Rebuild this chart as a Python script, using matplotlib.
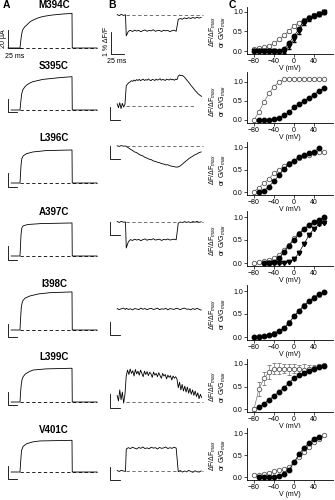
import matplotlib
matplotlib.use("Agg")
import matplotlib.pyplot as plt
import numpy as np

plt.rcParams['font.family'] = ['Liberation Sans', 'DejaVu Sans']
plt.rcParams['mathtext.fontset'] = 'custom'
plt.rcParams['mathtext.rm'] = 'Liberation Sans'
plt.rcParams['mathtext.it'] = 'Liberation Sans:italic'

mutants = ['M394C', 'S395C', 'L396C', 'A397C', 'I398C', 'L399C', 'V401C']

# ionic currents: (time ms, current uA), 100 ms depolarising pulse starting at t=0
currents = [
    [(-23, 0), (0, 0), (1.5, 8), (3, 15), (5, 20), (9, 23.5), (13, 25.5), (19, 29), (25, 31),
     (35, 33.5), (44, 35), (60, 36.5), (77, 37.5), (100, 38.5), (100.5, 0), (148, 0)],
    [(-17, 0), (0, 0), (1.5, 9), (3, 17), (5, 22), (9, 25.5), (13, 27.8), (19, 30), (25, 31.5),
     (44, 34), (77, 36), (100, 37), (100.5, 0), (148, 0)],
    [(-17, 0), (0, 0), (1, 10), (2, 20), (3.5, 27), (6, 30), (12, 32.5), (25, 34.5), (50, 36),
     (100, 36.7), (100.5, 0), (148, 0)],
    [(-17, 0), (0, 0), (1, 12), (2, 24), (3.5, 31), (6, 33.5), (15, 35), (40, 36), (100, 36.7),
     (100.5, 0), (148, 0)],
    [(-17, 0), (0, 0), (1, 12), (2.5, 25), (4, 30), (6, 33), (10, 35.5), (19, 37.8), (35, 40),
     (58, 41.5), (100, 42.3), (100.5, 0), (148, 0)],
    [(-17, 0), (0, 0), (1, 10), (2.5, 20), (4, 25), (6, 28), (10, 31), (17, 33.5), (25, 35.5),
     (50, 36.8), (100, 37.5), (100.5, 0), (148, 0)],
    [(-17, 0), (0, 0), (1, 9), (2, 17), (3, 24), (6, 28.5), (13, 31.5), (25, 33.5), (38, 34.5),
     (100, 35.2), (100.5, 0), (148, 0)],
]

# fluorescence (dF/F, %): before, during and after the pulse
fl_dt = [4, 2.5, 4, 4, 4, 2.5, 4]
fl_pre = [
    [0.02, -0.03, 0.03, -0.02, 0.01],
    [0.1, -0.08, 0.15, -0.12, 0.12, -0.05, 0.08],
    [0.01, -0.02, 0.02, -0.01, 0.0],
    [0.02, -0.02, 0.03, -0.01, 0.0],
    [0.02, -0.03, 0.01, 0.04, -0.02],
    [0.3, 0.05, 0.55, 0.1, 0.45, -0.05, 0.35],
    [0.02, -0.02, 0.03, 0.0, -0.02],
]
fl_on = [
    [-0.95, -0.74, -0.7, -0.75, -0.69, -0.73, -0.7, -0.76, -0.71, -0.68, -0.74, -0.7, -0.72,
     -0.67, -0.74, -0.71, -0.7, -0.75, -0.69, -0.72, -0.7, -0.76, -0.71, -0.69, -0.74],
    [0.92, 1.0, 1.06, 1.1, 1.15, 1.12, 1.18, 1.14, 1.2, 1.16, 1.21, 1.15, 1.19, 1.22, 1.16, 1.2,
     1.17, 1.23, 1.18, 1.15, 1.21, 1.19, 1.16, 1.22, 1.18, 1.2, 1.24, 1.17, 1.21, 1.19, 1.16,
     1.22, 1.2, 1.18, 1.23, 1.19, 1.21, 1.17, 1.22, 1.2],
    [-0.02, -0.08, -0.15, -0.2, -0.27, -0.3, -0.37, -0.42, -0.45, -0.52, -0.55, -0.6, -0.62,
     -0.68, -0.7, -0.74, -0.76, -0.8, -0.82, -0.86, -0.85, -0.9, -0.92, -0.94, -0.96],
    [-1.18, -0.9, -0.8, -0.84, -0.78, -0.82, -0.79, -0.85, -0.8, -0.77, -0.83, -0.79, -0.81,
     -0.76, -0.82, -0.8, -0.78, -0.84, -0.79, -0.81, -0.77, -0.82, -0.8, -0.78, -0.81],
    [0.03, -0.02, 0.01, -0.04, 0.02, 0.0, -0.03, 0.04, -0.01, 0.02, -0.03, 0.01, 0.03, -0.02,
     0.0, 0.04, -0.03, 0.01, -0.01, 0.03, -0.04, 0.02, 0.0, -0.02, 0.03],
    [1.2, 1.45, 1.25, 1.5, 1.3, 1.42, 1.18, 1.48, 1.28, 1.4, 1.22, 1.45, 1.3, 1.15, 1.4, 1.25,
     1.38, 1.2, 1.35, 1.28, 1.12, 1.36, 1.22, 1.3, 1.15, 1.33, 1.2, 1.08, 1.3, 1.18, 1.25, 1.05,
     1.22, 1.12, 1.2, 1.0, 1.18, 1.08, 1.15, 1.05],
    [1.0, 1.06, 1.02, 1.08, 1.04, 1.0, 1.07, 1.03, 1.09, 1.02, 1.05, 1.01, 1.08, 1.04, 1.06,
     1.0, 1.07, 1.03, 1.05, 1.09, 1.02, 1.06, 1.03, 1.08, 1.04],
]
fl_off = [
    [-0.2, -0.16, -0.19, -0.13, -0.17, -0.12, -0.16, -0.11, -0.15, -0.1, -0.14, -0.11],
    [1.36, 1.41, 1.38, 1.4, 1.35, 1.3, 1.22, 1.15, 1.08, 1.0, 0.92, 0.85, 0.78, 0.7, 0.64, 0.57,
     0.52, 0.47, 0.44],
    [-0.95, -0.9, -0.82, -0.74, -0.66, -0.58, -0.52, -0.46, -0.4, -0.36, -0.3, -0.27],
    [-0.05, 0.0, -0.03, 0.02, -0.02, 0.01, -0.03, 0.02, -0.01, 0.03, -0.02, 0.01],
    [0.01, -0.03, 0.02, 0.04, -0.01, 0.0, -0.04, 0.02, -0.02, 0.03, -0.01, -0.05],
    [0.65, 0.9, 0.55, 0.8, 0.5, 0.72, 0.45, 0.68, 0.4, 0.62, 0.35, 0.55, 0.3, 0.5, 0.25, 0.42,
     0.15, 0.35, 0.2],
    [-0.03, 0.02, -0.05, 0.0, -0.04, 0.03, -0.02, -0.06, 0.01, -0.03, -0.05, 0.0],
]
fl_dash_end = [148, 135, 148, 148, None, 148, 148]

# steady-state G-V (filled) and F-V (open) curves, plus fast F-V (triangles)
volt = [-80, -70, -60, -50, -40, -30, -20, -10, 0, 10, 20, 30, 40, 50, 60]
nan = np.nan
g_norm = [
    [0.0, 0.0, 0.0, 0.0, 0.0, 0.01, 0.05, 0.2, 0.38, 0.57, 0.78, 0.84, 0.9, 0.96, 1.0],
    [nan, 0.0, 0.0, 0.01, 0.02, 0.06, 0.13, 0.2, 0.33, 0.42, 0.5, 0.59, 0.67, 0.76, 0.84],
    [nan, 0.01, 0.03, 0.12, 0.24, 0.37, 0.51, 0.62, 0.7, 0.77, 0.82, 0.86, 0.9, 0.97, nan],
    [nan, nan, 0.0, 0.01, 0.03, 0.1, 0.24, 0.38, 0.5, 0.63, 0.73, 0.82, 0.89, 0.94, 0.99],
    [0.01, 0.01, 0.02, 0.04, 0.07, 0.12, 0.19, 0.3, 0.45, 0.57, 0.68, 0.78, 0.85, 0.93, 0.97],
    [nan, 0.04, 0.12, 0.2, 0.29, 0.38, 0.47, 0.58, 0.68, 0.75, 0.8, 0.85, 0.89, 0.93, 0.96],
    [nan, 0.0, 0.0, 0.0, 0.01, 0.03, 0.07, 0.16, 0.33, 0.52, 0.66, 0.77, 0.87, 0.92, nan],
]
f_norm = [
    [0.05, 0.07, 0.09, 0.13, 0.2, 0.3, 0.4, 0.52, 0.65, 0.73, 0.8, 0.86, 0.92, 0.96, 1.0],
    [0.0, 0.22, 0.48, 0.7, 0.88, 1.0, 1.07, 1.09, 1.09, 1.09, 1.09, 1.09, 1.08, 1.08, 1.07],
    [0.01, 0.1, 0.2, 0.29, 0.42, 0.5, 0.57, 0.64, 0.7, 0.76, 0.8, 0.83, 0.87, 0.9, 0.88],
    [0.0, 0.02, 0.04, 0.07, 0.1, 0.18, 0.29, 0.4, 0.54, 0.65, 0.75, 0.83, 0.9, 0.93, 0.98],
    [0.01, 0.02, 0.03, 0.05, 0.08, 0.13, 0.2, 0.32, 0.45, 0.57, 0.69, 0.78, 0.86, 0.92, 0.98],
    [0.0, 0.45, 0.68, 0.82, 0.9, 0.9, 0.9, 0.88, 0.9, 0.88, 0.87, 0.9, 0.92, 0.95, 0.98],
    [0.04, 0.05, 0.07, 0.1, 0.13, 0.15, 0.19, 0.23, 0.33, 0.46, 0.57, 0.68, 0.8, 0.87, 0.95],
]
f_err = [
    [0.02, 0.02, 0.02, 0.03, 0.03, 0.04, 0.04, 0.05, 0.05, 0.04, 0.04, 0.03, 0.03, 0.02, 0.02],
    [0.02] * 15,
    [0.02] * 15,
    [0.02] * 15,
    [0.02, 0.02, 0.02, 0.02, 0.03, 0.03, 0.03, 0.06, 0.04, 0.03, 0.03, 0.03, 0.02, 0.02, 0.02],
    [0.04, 0.15, 0.14, 0.15, 0.12, 0.12, 0.1, 0.12, 0.1, 0.1, 0.12, 0.08, 0.05, 0.04, 0.03],
    [0.02] * 15,
]
fast_norm = {
    0: [0.0, 0.0, 0.0, -0.01, -0.01, -0.02, -0.02, 0.12, 0.3, 0.5, 0.72, 0.83, 0.9, 0.95, 0.99],
    3: [nan, nan, nan, 0.0, -0.01, -0.01, 0.0, 0.03, 0.08, 0.22, 0.42, 0.6, 0.75, 0.84, 0.87],
}
fast_err = {
    0: [0.01, 0.01, 0.01, 0.02, 0.03, 0.03, 0.04, 0.06, 0.06, 0.06, 0.05, 0.05, 0.04, 0.05, 0.03],
    3: [0.01] * 15,
}

W, H = 335, 500
fig = plt.figure(figsize=(W / 100, H / 100), dpi=100)


def px_axes(x0, x1, top, bot):
    return fig.add_axes([x0 / W, 1 - bot / H, (x1 - x0) / W, (bot - top) / H])


def trace_axes(x0, x1, top, bot, ox, oy, sx, sy):
    ax = px_axes(x0, x1, top, bot)
    ax.set_xlim((x0 - ox) / sx, (x1 - ox) / sx)
    ax.set_ylim((oy - bot) / sy, (oy - top) / sy)
    ax.axis('off')
    return ax


lw = 0.6
base_a = [48, 110, 183, 256, 330, 402, 472]
base_b = [15, 106, 146, 222, 309, 402, 471]
label_y = [5, 66, 138, 212, 284, 357, 430]
bar_a_off = [0, -2.5, -4, -4, -8, -3.5, -8]
bar_b_off = [-1.77, -0.64, -0.6, -0.6, -1.18, -0.25, -0.41]
c_rows = [(12, 51), (82, 120), (147, 192), (217, 263), (291, 337), (364, 409), (433, 477)]

for r, name in enumerate(mutants):
    fig.text(54 / W, 1 - label_y[r] / H, name, ha='center', va='center',
             fontsize=7, fontweight='bold')

    # --- A: currents
    ax = trace_axes(0, 105, base_a[r] - 50, base_a[r] + 15, 20, base_a[r], 0.52, 0.9)
    t, i = zip(*currents[r])
    ax.plot(t, i, color='k', lw=lw)
    ax.plot([0, 148], [0, 0], color='k', lw=lw, ls=(0, (4, 3)))
    b = bar_a_off[r]
    if r == 0:
        ax.plot([-23, -23, 2], [20, 0, 0], color='k', lw=lw)
        ax.text(-31, 10, '20 µA', rotation=90, ha='center', va='center', fontsize=5)
        ax.text(-11, -10, '25 ms', ha='center', va='center', fontsize=5)
    else:
        ax.plot([-24, -24, -5], [b + 15, b, b], color='k', lw=lw)

    # --- B: fluorescence
    ax = trace_axes(100, 210, base_b[r] - 40, base_b[r] + 50, 126, base_b[r], 0.52, 22)
    dt = fl_dt[r]
    tp = -17 + dt * np.arange(len(fl_pre[r]))
    tn = 0.5 + dt * np.arange(len(fl_on[r]))
    tf = 100.5 + dt * np.arange(len(fl_off[r]))
    ax.plot(np.concatenate([tp, tn, tf]), fl_pre[r] + fl_on[r] + fl_off[r], color='k', lw=lw)
    if fl_dash_end[r] is not None:
        ax.plot([0, fl_dash_end[r]], [0, 0], color='0.35', lw=lw, ls=(0, (4, 3)))
    b = bar_b_off[r]
    if r == 0:
        ax.plot([-29, -29, -4], [b + 1, b, b], color='k', lw=lw)
        ax.text(-38, b + 0.55, '1 % ΔF/F', rotation=90, ha='center', va='center', fontsize=5)
        ax.text(-18, b - 0.33, '25 ms', ha='center', va='center', fontsize=5)
    else:
        ax.plot([-31, -31, -12], [b + 0.6, b, b], color='k', lw=lw)

    # --- C: normalised G-V and F-V
    p1, p0 = c_rows[r]
    ymax = 1.27 if r == 1 else 1.12
    ymin = -0.07
    s = p0 - p1
    ax = px_axes(247, 333, p1 - (ymax - 1) * s, p0 - ymin * s)
    ax.set_xlim(-94, 78)
    ax.set_ylim(ymin, ymax)
    ax.errorbar(volt, f_norm[r], yerr=f_err[r], fmt='-o', color='0.45', mfc='white',
                mec='0.35', ms=3.2, lw=0.5, mew=0.6, elinewidth=0.5, capsize=1.2, zorder=2)
    ax.plot(volt, g_norm[r], '-o', color='k', ms=3.2, lw=0.5, zorder=3)
    if r in fast_norm:
        ax.errorbar(volt, fast_norm[r], yerr=fast_err[r], fmt='-v', color='k', ms=3.2,
                    lw=0.5, elinewidth=0.5, capsize=1.2, zorder=4)
    ax.set_xticks([-80, -40, 0, 40])
    ax.set_yticks([0.0, 0.5, 1.0])
    ax.set_yticklabels(['0.0', '0.5', '1.0'])
    ax.tick_params(labelsize=5, length=2, width=0.5, pad=1)
    for sp in ['top', 'right']:
        ax.spines[sp].set_visible(False)
    for sp in ['left', 'bottom']:
        ax.spines[sp].set_linewidth(0.6)
    ax.set_xlabel('V (mV)', fontsize=5, labelpad=0)
    fig.text(218 / W, 1 - (p1 + p0) / 2 / H, 'ΔF/ΔF$_{max}$\nor G/G$_{max}$', rotation=90,
             ha='center', va='center', fontsize=5, multialignment='center', linespacing=1.0)

for lab, x in [('A', 3), ('B', 108), ('C', 229)]:
    fig.text(x / W, 1 - 5 / H, lab, ha='left', va='center', fontsize=7.5, fontweight='bold')

fig.savefig('out.png', dpi=100)
